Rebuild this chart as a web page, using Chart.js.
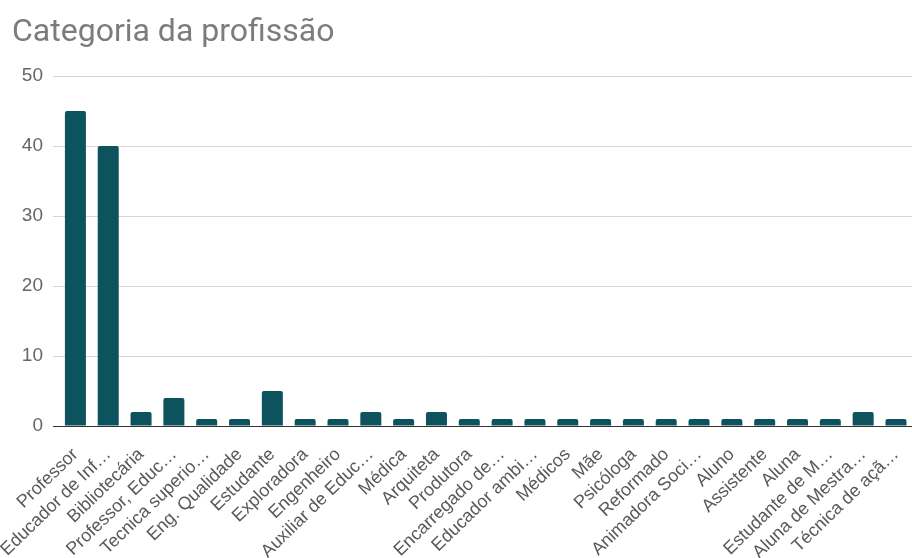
<!DOCTYPE html>
<html lang="pt">
<head>
<meta charset="utf-8">
<title>Categoria da profissão</title>
<script src="https://cdn.jsdelivr.net/npm/chart.js@4/dist/chart.umd.min.js"></script>
<style>
  html, body { margin: 0; padding: 0; background: #ffffff; overflow: hidden; }
  #wrap { position: relative; width: 921px; height: 558px; }
</style>
</head>
<body>
<div id="wrap"><canvas id="chart"></canvas></div>
<script>
// Profession categories and the number of answers in each
const categorias = [
  "Professor", "Educador de Inf…", "Bibliotecária", "Professor, Educ…",
  "Tecnica superio…", "Eng. Qualidade", "Estudante", "Exploradora",
  "Engenheiro", "Auxiliar de Educ…", "Médica", "Arquiteta", "Produtora",
  "Encarregado de…", "Educador ambi…", "Médicos", "Mãe", "Psicóloga",
  "Reformado", "Animadora Soci…", "Aluno", "Assistente", "Aluna",
  "Estudante de M…", "Aluna de Mestra…", "Técnica de açã…"
];
const respostas = [
  45, 40, 2, 4, 1, 1, 5, 1, 1, 2, 1, 2, 1,
  1, 1, 1, 1, 1, 1, 1, 1, 1, 1, 1, 2, 1
];
const tituloGrafico = "Categoria da profissão";
const eixoY = { min: 0, max: 50, passo: 10 };

const corBarra = "#0c535e";

new Chart(document.getElementById("chart"), {
  type: "bar",
  data: {
    labels: categorias,
    datasets: [{
      label: tituloGrafico,
      data: respostas,
      backgroundColor: corBarra,
      borderRadius: { topLeft: 2, topRight: 2 },
      borderSkipped: "bottom",
      categoryPercentage: 1.0,
      barPercentage: 0.64
    }]
  },
  options: {
    responsive: true,
    maintainAspectRatio: false,
    animation: false,
    layout: { padding: { left: 12, right: 1, top: 0, bottom: 0 } },
    plugins: {
      legend: { display: false },
      tooltip: { enabled: false },
      title: {
        display: true,
        text: tituloGrafico,
        align: "start",
        color: "#7c7c7c",
        font: { family: "Roboto", size: 32, weight: "normal" },
        padding: { top: 14, bottom: 23.6 }
      }
    },
    scales: {
      x: {
        afterFit: (s) => { s.height = 132; },
        grid: { display: false },
        border: { display: false },
        ticks: {
          autoSkip: false,
          minRotation: 44,
          maxRotation: 44,
          padding: 10,
          color: "#595959",
          font: { family: "Liberation Sans", size: 18 }
        }
      },
      y: {
        min: eixoY.min,
        max: eixoY.max,
        afterFit: (s) => { s.width = 47; },
        border: { display: false },
        grid: {
          color: (c) => (c.tick && c.tick.value === 0 ? "#333333" : "#d6d6d6"),
          lineWidth: 1,
          drawTicks: true,
          tickLength: 6
        },
        ticks: {
          stepSize: eixoY.passo,
          padding: 10,
          color: "#666666",
          font: { family: "Liberation Sans", size: 19 }
        }
      }
    }
  }
});
</script>
</body>
</html>
